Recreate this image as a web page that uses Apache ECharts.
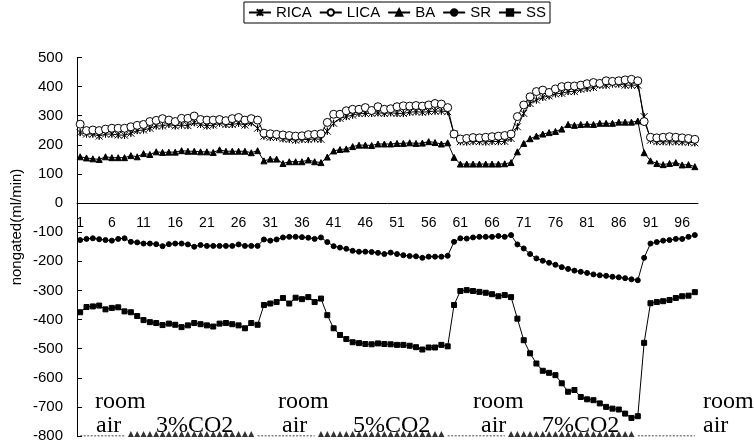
<!DOCTYPE html>
<html>
<head>
<meta charset="utf-8">
<script src="https://cdn.jsdelivr.net/npm/echarts@6/dist/echarts.min.js"></script>
<style>html,body{margin:0;padding:0;background:#fff}#c{width:754px;height:444px}</style>
</head>
<body>
<div id="c"></div>
<script>
var categories = [];
for (var i = 1; i <= 98; i++) categories.push(String(i));
var yTicks = { min: -800, max: 500, step: 100 };
var seriesNames = ['RICA', 'LICA', 'BA', 'SR', 'SS'];

var RICA = [242,237,237,230,237,237,234,233,240,249,
  251,257,265,265,270,265,268,266,276,270,
  265,268,274,270,270,274,268,276,257,230,
  226,226,221,219,216,219,218,221,219,247,
  274,291,297,302,308,308,308,310,308,310,
  308,308,312,314,312,314,316,316,314,237,
  211,210,212,211,210,212,211,212,222,262,
  308,342,354,363,368,375,377,383,383,391,
  394,397,405,405,409,409,405,405,405,297,
  216,211,211,210,211,210,209,207];
var LICA = [271,249,251,249,254,257,257,257,262,267,
  270,280,284,290,285,280,291,291,299,287,
  285,285,287,283,290,294,285,290,285,240,
  238,236,234,232,230,231,235,236,238,277,
  305,305,317,322,322,328,318,331,322,324,
  331,334,333,335,333,337,342,340,328,237,
  220,222,225,224,226,228,230,232,237,297,
  337,365,383,388,380,392,400,402,402,405,
  410,414,411,420,418,420,423,425,420,280,
  226,224,226,228,226,224,222,219];
var BA = [159,155,152,150,159,156,156,156,163,159,
  170,167,176,174,175,175,180,178,178,176,
  176,174,183,178,178,178,178,173,180,145,
  151,151,136,142,142,142,148,142,139,158,
  179,184,186,194,199,199,198,203,203,203,
  205,205,207,205,206,211,208,203,207,157,
  134,134,134,134,134,134,134,135,139,176,
  205,221,230,237,242,246,254,270,267,270,
  271,270,274,274,274,278,278,278,282,173,
  145,136,132,136,139,131,132,125];
var SR = [-127,-123,-121,-124,-127,-129,-123,-121,-133,-135,
  -139,-139,-141,-148,-141,-139,-139,-142,-150,-144,
  -147,-147,-147,-147,-147,-142,-147,-147,-147,-125,
  -129,-125,-118,-116,-116,-117,-119,-123,-118,-134,
  -148,-153,-157,-164,-167,-167,-168,-171,-175,-170,
  -175,-179,-182,-183,-188,-184,-184,-184,-181,-133,
  -121,-122,-118,-116,-116,-116,-113,-116,-110,-142,
  -156,-175,-190,-198,-205,-212,-220,-226,-232,-236,
  -240,-245,-248,-250,-253,-255,-258,-262,-265,-188,
  -139,-134,-129,-127,-123,-123,-116,-110];
var SS = [-375,-357,-355,-352,-365,-360,-358,-372,-375,-388,
  -402,-409,-412,-419,-414,-418,-426,-420,-412,-416,
  -420,-424,-414,-412,-416,-420,-430,-412,-418,-350,
  -345,-340,-326,-345,-325,-330,-323,-340,-328,-385,
  -430,-453,-467,-478,-481,-484,-485,-482,-484,-485,
  -487,-487,-490,-495,-503,-496,-496,-487,-492,-350,
  -302,-299,-302,-305,-308,-313,-320,-316,-323,-397,
  -471,-516,-551,-576,-583,-591,-619,-648,-642,-666,
  -674,-677,-688,-700,-706,-709,-723,-738,-732,-480,
  -344,-340,-337,-333,-326,-320,-318,-306];

// condition periods along the bottom (category ranges, 1-based inclusive)
var roomAirPeriods = [[1, 8], [29, 38], [59, 68], [89, 98]];
var co2Periods = [[9, 28], [39, 58], [69, 88]];
var baseLevel = -800;
var periodTexts = [
  { top: 'room', bottom: 'air' }, { co2: '3%CO2' },
  { top: 'room', bottom: 'air' }, { co2: '5%CO2' },
  { top: 'room', bottom: 'air' }, { co2: '7%CO2' },
  { top: 'room', bottom: 'air' }
];

function periodData(periods) {
  var out = [];
  for (var i = 1; i <= categories.length; i++) {
    var v = null;
    periods.forEach(function (p) { if (i >= p[0] && i <= p[1]) v = baseLevel; });
    out.push(v);
  }
  return out;
}

var asterisk = 'path://M0,0L10,10M10,0L0,10M5,0L5,10M5,10L5,0';
var FONT = 'Liberation Sans';
var SERIF = 'Liberation Serif';

function lineSeries(name, data, symbol, size, fill) {
  return {
    name: name, type: 'line', data: data, symbol: symbol, symbolSize: size,
    showAllSymbol: true,
    lineStyle: { color: '#000', width: 1 },
    itemStyle: { color: fill, borderColor: '#000', borderWidth: 1 },
    emphasis: { disabled: true }, animation: false
  };
}

var W = 754, H = 444;
var gridTop = 57.5, gridBottom = 8;
var plotH = H - gridTop - gridBottom;
// x axis sits on the zero line: offset from the grid bottom
var zeroOffset = -plotH * (0 - yTicks.min) / (yTicks.max - yTicks.min);

var chart = echarts.init(document.getElementById('c'), null, { renderer: 'canvas' });

var textEls = [];
var serifFont = '24px "' + SERIF + '"';
var pos = [
  { x: 95, x2: 96 }, { x: 156 }, { x: 278, x2: 282 }, { x: 353 },
  { x: 473, x2: 481 }, { x: 542 }, { x: 703, x2: 703 }
];
periodTexts.forEach(function (t, k) {
  if (t.co2) {
    textEls.push({ type: 'text', x: pos[k].x, y: 438, silent: true,
      style: { text: t.co2, font: serifFont, fill: '#000', align: 'left', verticalAlign: 'bottom' } });
  } else {
    textEls.push({ type: 'text', x: pos[k].x, y: 414, silent: true,
      style: { text: t.top, font: serifFont, fill: '#000', align: 'left', verticalAlign: 'bottom' } });
    textEls.push({ type: 'text', x: pos[k].x2, y: 438, silent: true,
      style: { text: t.bottom, font: serifFont, fill: '#000', align: 'left', verticalAlign: 'bottom' } });
  }
});
textEls.push({ type: 'text', x: 17, y: 227, rotation: Math.PI / 2, silent: true,
  style: { text: 'nongated(ml/min)', font: '15px "' + FONT + '"', fill: '#000', align: 'center', verticalAlign: 'middle' } });

chart.setOption({
  animation: false,
  backgroundColor: '#fff',
  textStyle: { fontFamily: FONT, color: '#000' },
  grid: { left: 77, right: 56, top: gridTop, bottom: gridBottom, containLabel: false },
  legend: {
    data: seriesNames, top: 2, right: 204,
    itemWidth: 22, itemHeight: 8, itemGap: 7,
    padding: [3, 4], borderColor: '#000', borderWidth: 1,
    textStyle: { fontSize: 15, fontFamily: FONT, color: '#000' },
    selectedMode: false
  },
  xAxis: {
    type: 'category', data: categories, boundaryGap: true,
    position: 'bottom', offset: zeroOffset,
    axisLine: { onZero: false, lineStyle: { color: '#000', width: 1 } },
    axisTick: { inside: true, length: 5, interval: 4, lineStyle: { color: '#000' } },
    axisLabel: { interval: 4, fontSize: 14, fontFamily: FONT, color: '#000', margin: 13 },
    splitLine: { show: false }
  },
  yAxis: {
    type: 'value', min: yTicks.min, max: yTicks.max, interval: yTicks.step,
    axisLine: { show: true, lineStyle: { color: '#000', width: 1 } },
    axisTick: { show: true, inside: true, length: 5, lineStyle: { color: '#000' } },
    axisLabel: { fontSize: 15, fontFamily: FONT, color: '#000', margin: 14 },
    splitLine: { show: false }
  },
  graphic: textEls,
  series: [
    lineSeries('RICA', RICA, asterisk, 7, 'none'),
    lineSeries('LICA', LICA, 'circle', 8, '#fff'),
    lineSeries('BA', BA, 'triangle', 6, '#000'),
    lineSeries('SR', SR, 'circle', 5, '#000'),
    lineSeries('SS', SS, 'rect', 5, '#000'),
    {
      name: 'room air', type: 'line', data: periodData(roomAirPeriods), symbol: 'none',
      connectNulls: false, lineStyle: { color: '#000', width: 1, type: [2, 1.5] },
      silent: true, z: 1
    },
    {
      name: 'CO2', type: 'scatter', data: periodData(co2Periods), symbol: 'triangle',
      symbolSize: 6, symbolOffset: [0, -2], itemStyle: { color: '#000' }, silent: true
    }
  ]
});
</script>
</body>
</html>
